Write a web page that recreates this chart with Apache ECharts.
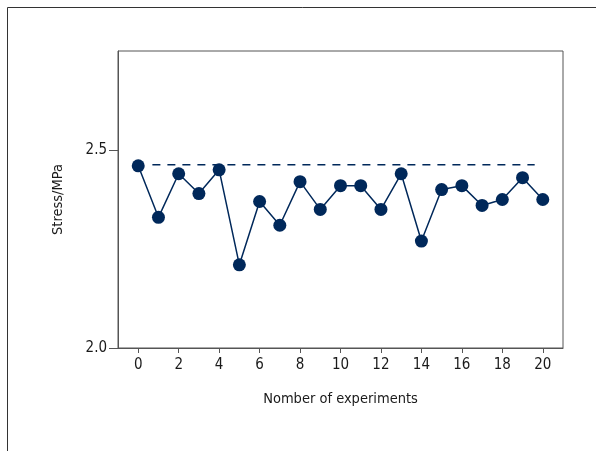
<!DOCTYPE html>
<html>
<head>
    <meta charset="utf-8">
    <script src="https://cdn.jsdelivr.net/npm/echarts@6/dist/echarts.min.js"></script>
    <style>
        html, body { margin: 0; padding: 0; background: #fff; }
    </style>
</head>
<body>
    <div id="main" style="width: 596px;height:451px;"></div>
    <script>
        // experiment number and measured stress
        var experiments = [0, 1, 2, 3, 4, 5, 6, 7, 8, 9, 10, 11, 12, 13, 14, 15, 16, 17, 18, 19, 20];
        var stress = [2.46, 2.33, 2.44, 2.39, 2.45, 2.21, 2.37, 2.31, 2.42, 2.35, 2.41, 2.41, 2.35, 2.44, 2.27, 2.40, 2.41, 2.36, 2.375, 2.43, 2.375];
        // dashed reference level
        var refX = [0.7, 19.6];
        var refY = 2.463;
        // tick labels
        var xTicks = [0, 2, 4, 6, 8, 10, 12, 14, 16, 18, 20];
        var yTicks = [2.0, 2.5];

        var navy = '#00285a';
        var font = "'DejaVu Sans Condensed', 'Liberation Sans Narrow', sans-serif";

        var myChart = echarts.init(document.getElementById('main'));
        var option = {
            animation: false,
            backgroundColor: '#fff',
            grid: {
                left: 118,
                top: 51,
                right: 33,
                bottom: 103,
                show: true,
                borderColor: '#555',
                borderWidth: 1
            },
            graphic: [{
                type: 'rect',
                shape: { x: 7.5, y: 7.5, width: 700, height: 600 },
                style: { fill: 'none', stroke: '#333', lineWidth: 1 },
                silent: true
            }],
            xAxis: {
                type: 'value',
                min: -1,
                max: 21,
                name: 'Nomber of experiments',
                nameLocation: 'middle',
                nameGap: 44,
                nameTextStyle: { fontFamily: font, fontSize: 14.5, color: '#1a1a1a' },
                axisLine: { onZero: false, lineStyle: { color: '#555' } },
                axisTick: { customValues: xTicks, length: 5, lineStyle: { color: '#555' } },
                axisLabel: { customValues: xTicks, fontFamily: font, fontSize: 15, color: '#1a1a1a', margin: 10 },
                splitLine: { show: false }
            },
            yAxis: {
                type: 'value',
                min: 2.0,
                max: 2.75,
                name: 'Stress/MPa',
                nameLocation: 'middle',
                nameGap: 52,
                nameTextStyle: { fontFamily: font, fontSize: 14.5, color: '#1a1a1a' },
                axisLine: { show: true, onZero: false, lineStyle: { color: '#555' } },
                axisTick: { show: true, customValues: yTicks, length: 9, lineStyle: { color: '#555' } },
                axisLabel: {
                    customValues: yTicks,
                    fontFamily: font,
                    fontSize: 15,
                    color: '#1a1a1a',
                    margin: 11,
                    formatter: function (v) { return v.toFixed(1); }
                },
                splitLine: { show: false }
            },
            series: [{
                type: 'line',
                data: refX.map(function (x) { return [x, refY]; }),
                symbol: 'none',
                lineStyle: { color: navy, width: 1.5, type: [8, 7] },
                z: 1
            }, {
                type: 'line',
                data: experiments.map(function (x, i) { return [x, stress[i]]; }),
                symbol: 'circle',
                symbolSize: 13,
                itemStyle: { color: navy },
                lineStyle: { color: navy, width: 1.5 },
                z: 2
            }]
        };
        myChart.setOption(option);
    </script>
</body>
</html>
